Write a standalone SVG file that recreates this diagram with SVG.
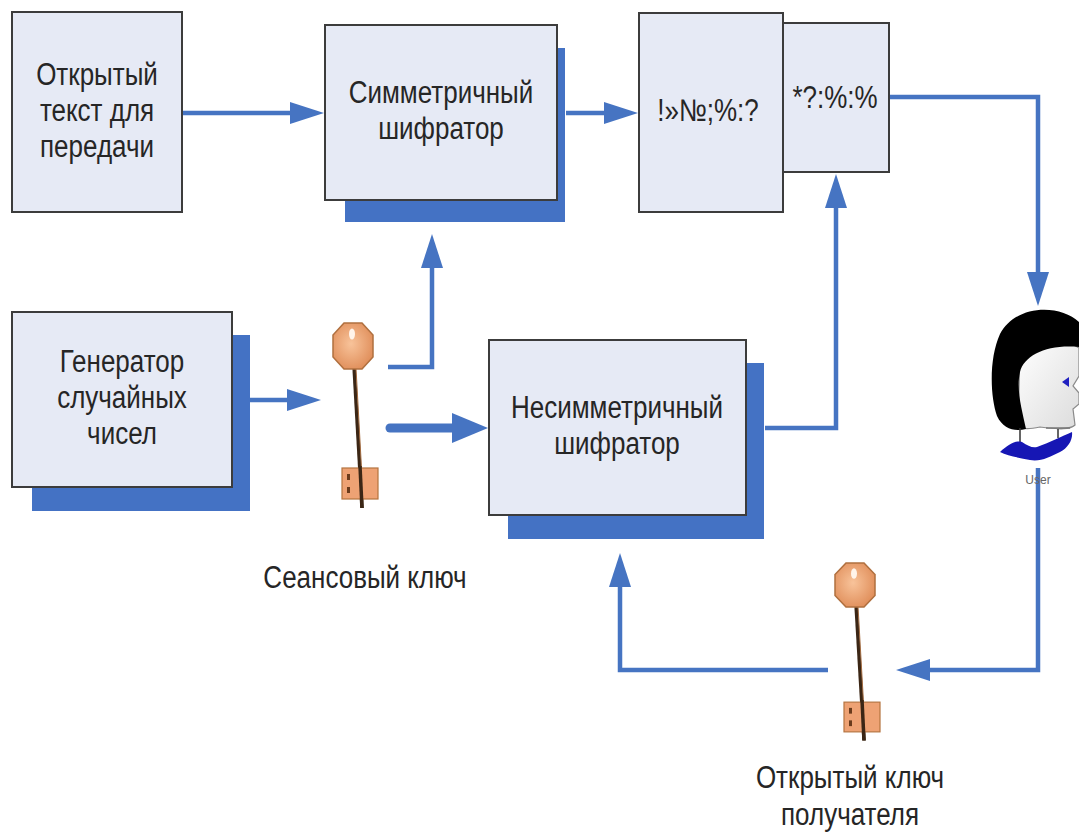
<svg xmlns="http://www.w3.org/2000/svg" xmlns:xlink="http://www.w3.org/1999/xlink" width="1079" height="832" viewBox="0 0 1079 832">
  <style>
    .box { fill: #e6eaf5; stroke: #3c3c3c; stroke-width: 2; }
    .shadow { fill: #4472c4; }
    .lbl { font-family: "Liberation Sans", Arial, sans-serif; font-size: 26px; fill: #262626; text-anchor: middle; }
    .wire { fill: none; stroke: #4674c2; stroke-width: 4.5; stroke-linejoin: miter; marker-end: url(#ah); }
    .wire-bold { fill: none; stroke: #4674c2; stroke-width: 9; stroke-linecap: round; marker-end: url(#ahb); }
  </style>
  <defs>
    <marker id="ah" markerUnits="userSpaceOnUse" markerWidth="36" markerHeight="24" refX="1" refY="11" orient="auto">
      <path d="M0,0 L34,11 L0,22 Z" fill="#4674c2"/>
    </marker>
    <marker id="ahb" markerUnits="userSpaceOnUse" markerWidth="38" markerHeight="32" refX="1" refY="15" orient="auto">
      <path d="M0,0 L36,15 L0,30 Z" fill="#4674c2"/>
    </marker>
    <radialGradient id="brass" cx="0.45" cy="0.45" r="0.6">
      <stop offset="0" stop-color="#f8c39a"/>
      <stop offset="1" stop-color="#e08e5a"/>
    </radialGradient>
    <linearGradient id="skin" x1="0" y1="0" x2="1" y2="1">
      <stop offset="0" stop-color="#ffffff"/>
      <stop offset="1" stop-color="#dcdcdc"/>
    </linearGradient>
    <!-- key drawn around the centre of its bow -->
    <g id="key">
      <line x1="1" y1="20" x2="9" y2="162" stroke="#3b2615" stroke-width="3.5"/>
      <line x1="3" y1="22" x2="10" y2="150" stroke="#a36b3f" stroke-width="1"/>
      <rect x="-11" y="122" width="36" height="31" fill="#eea274" stroke="#b4733f" stroke-width="1.2"/>
      <rect x="-6" y="128" width="3" height="6" fill="#6a3b1c"/>
      <rect x="-6" y="141" width="3" height="6" fill="#6a3b1c"/>
      <line x1="7" y1="120" x2="9" y2="162" stroke="#3b2615" stroke-width="3.5"/>
      <polygon points="-9,-23 9,-23 20,-11 20,11 9,23 -9,23 -20,11 -20,-11" fill="url(#brass)" stroke="#b0703f" stroke-width="1.5"/>
      <ellipse cx="-1" cy="-12" rx="3" ry="5.5" fill="#fff4ea"/>
    </g>
  </defs>

  <rect width="1079" height="832" fill="#ffffff"/>

  <!-- connectors -->
  <g id="connectors">
    <path class="wire" d="M182,113 H291"/>
    <path class="wire" d="M566,113 H605"/>
    <path class="wire" d="M250,400 H288"/>
    <path class="wire" d="M388,367 H432 V267"/>
    <path class="wire-bold" d="M390,428 H453"/>
    <path class="wire" d="M765,428 H836 V207"/>
    <path class="wire" d="M889,97 H1038 V273"/>
    <path class="wire" d="M1038,468 V670 H929"/>
    <path class="wire" d="M828,670 H620 V586"/>
  </g>

  <!-- plain text to send -->
  <g id="plaintext">
    <rect class="box" x="12" y="12" width="170" height="200"/>
    <text class="lbl" transform="translate(97,85) scale(1,1.2)"><tspan x="0" y="0">Открытый</tspan><tspan x="0" y="30">текст для</tspan><tspan x="0" y="60">передачи</tspan></text>
  </g>

  <!-- symmetric cipher -->
  <g id="sym-cipher">
    <rect class="shadow" x="345" y="48" width="220" height="174"/>
    <rect class="box" x="325" y="25" width="232" height="175"/>
    <text class="lbl" transform="translate(441,103) scale(1,1.2)"><tspan x="0" y="0">Симметричный</tspan><tspan x="0" y="30">шифратор</tspan></text>
  </g>

  <!-- ciphertext -->
  <g id="ciphertext">
    <rect class="box" x="639" y="13" width="144" height="199"/>
    <text class="lbl" transform="translate(708,121) scale(1,1.2)">!»№;%:?</text>
  </g>

  <!-- encrypted session key -->
  <g id="enc-key">
    <rect class="box" x="783" y="23" width="106" height="149"/>
    <text class="lbl" transform="translate(835,108) scale(1,1.2)">*?:%:%</text>
  </g>

  <!-- random number generator -->
  <g id="rng">
    <rect class="shadow" x="32" y="335" width="218" height="176"/>
    <rect class="box" x="12" y="312" width="220" height="175"/>
    <text class="lbl" transform="translate(122,372) scale(1,1.2)"><tspan x="0" y="0">Генератор</tspan><tspan x="0" y="30">случайных</tspan><tspan x="0" y="60">чисел</tspan></text>
  </g>

  <!-- asymmetric cipher -->
  <g id="asym-cipher">
    <rect class="shadow" x="508" y="363" width="256" height="176"/>
    <rect class="box" x="489" y="340" width="257" height="175"/>
    <text class="lbl" transform="translate(617,418) scale(1,1.2)"><tspan x="0" y="0">Несимметричный</tspan><tspan x="0" y="30">шифратор</tspan></text>
  </g>

  <!-- session key -->
  <g id="session-key">
    <use xlink:href="#key" href="#key" transform="translate(353,346)"/>
    <text class="lbl" transform="translate(365,588) scale(1,1.2)">Сеансовый ключ</text>
  </g>

  <!-- recipient public key -->
  <g id="public-key">
    <use xlink:href="#key" href="#key" transform="translate(855,585) scale(1,0.96)"/>
    <text class="lbl" transform="translate(850,788) scale(1,1.2)"><tspan x="0" y="0">Открытый ключ</tspan><tspan x="0" y="31">получателя</tspan></text>
  </g>

  <!-- recipient -->
  <g id="user">
    <path d="M1020,350 C1040,338 1068,340 1079,348 L1079,376 L1073,386 L1079,393 L1079,404 L1073,409 L1075,425 C1070,430 1058,429 1048,428 L1040,427 C1030,429 1022,430 1018,425 Z" fill="url(#skin)" stroke="#8a8a8a" stroke-width="1.2"/>
    <path d="M1079,322 C1060,304 1016,304 1000,334 C989,358 990,396 997,416 C1003,429 1015,432 1026,429 C1022,410 1016,390 1020,372 C1024,355 1048,344 1079,347 Z" fill="#000000"/>
    <path d="M1046,428 H1070" stroke="#777" stroke-width="1.5"/>
    <path d="M1020,428 V442 M1058,429 V438" stroke="#333" stroke-width="1.5"/>
    <polygon points="1062,382 1069,377 1069,387" fill="#2020c0"/>
    <path d="M1000,452 C1008,445 1015,440 1022,442 C1028,446 1032,448 1037,447 C1049,443 1062,436 1072,432 C1073,440 1068,448 1060,452 C1050,457 1040,462 1030,460 C1020,458 1008,456 1000,452 Z" fill="#1616b4"/>
    <text x="1038" y="484" font-family="'Liberation Sans', Arial, sans-serif" font-size="12" fill="#666" text-anchor="middle">User</text>
  </g>
</svg>
